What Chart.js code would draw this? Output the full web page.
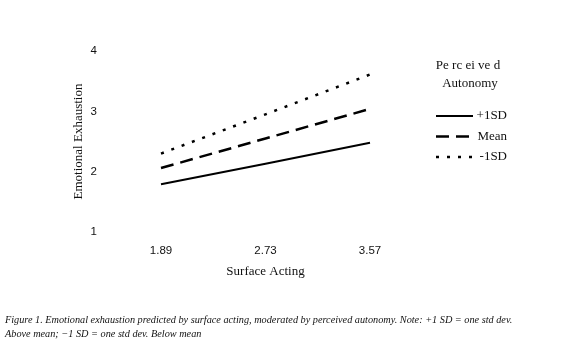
<!DOCTYPE html>
<html>
<head>
<meta charset="utf-8">
<script src="https://cdn.jsdelivr.net/npm/chart.js@4"></script>
<style>
    body { margin: 0; background: #fff; }
    #wrap { position: relative; width: 580px; height: 349px; }
    #caption {
        position: absolute; left: 5px; top: 313px; width: 575px;
        font-family: "Liberation Serif", serif; font-style: italic;
        font-size: 10.25px; line-height: 14px; color: #111;
    }
</style>
</head>
<body>
<div id="wrap">
    <canvas id="chart" width="580" height="349"></canvas>
    <div id="caption">Figure 1. Emotional exhaustion predicted by surface acting, moderated by perceived autonomy. Note: +1 SD = one std dev.<br>Above mean; &minus;1 SD = one std dev. Below mean</div>
</div>
<script>
// Chart data
const surfaceActing = ['1.89', '2.73', '3.57'];
const highAutonomy = [1.79, 2.13, 2.48];
const meanAutonomy = [2.06, 2.55, 3.04];
const lowAutonomy = [2.30, 2.95, 3.61];
const seriesLabels = ['+1SD', 'Mean', '-1SD'];
const yTicks = [1, 2, 3, 4];

// Legend drawn at the right side, lines + right-aligned text
const sideLegend = {
    id: 'sideLegend',
    afterDraw(chart) {
        const ctx = chart.ctx;
        ctx.save();
        ctx.fillStyle = '#111';
        ctx.font = '13px "Liberation Serif", serif';
        ctx.textAlign = 'center';
        ctx.textBaseline = 'middle';
        ctx.fillText('Pe rc ei ve d', 468, 66);
        ctx.fillText('Autonomy', 470, 84);

        ctx.textAlign = 'right';
        chart.data.datasets.forEach(function(ds, i) {
            const y = 116 + i * 20.5;
            ctx.beginPath();
            ctx.strokeStyle = ds.borderColor;
            ctx.lineWidth = ds.borderWidth;
            ctx.setLineDash(ds.borderDash || []);
            ctx.moveTo(436, y);
            ctx.lineTo(473, y);
            ctx.stroke();
            ctx.setLineDash([]);
            ctx.fillText(ds.label, 507, y);
        });
        ctx.restore();
    }
};

new Chart(document.getElementById('chart'), {
    type: 'line',
    data: {
        labels: surfaceActing,
        datasets: [{
            label: seriesLabels[0],
            data: highAutonomy,
            borderColor: '#000',
            borderWidth: 2,
            borderDash: []
        }, {
            label: seriesLabels[1],
            data: meanAutonomy,
            borderColor: '#000',
            borderWidth: 2.5,
            borderDash: [13, 7]
        }, {
            label: seriesLabels[2],
            data: lowAutonomy,
            borderColor: '#000',
            borderWidth: 2.5,
            borderDash: [3, 8]
        }]
    },
    options: {
        responsive: false,
        animation: false,
        elements: { point: { radius: 0 }, line: { tension: 0 } },
        layout: { padding: { left: 0, right: 210, top: 51, bottom: 70 } },
        plugins: {
            legend: { display: false },
            tooltip: { enabled: false }
        },
        scales: {
            x: {
                offset: false,
                grid: { display: false, drawTicks: false },
                border: { display: false },
                ticks: {
                    color: '#111',
                    padding: 12,
                    font: { family: '"Liberation Sans", Arial, sans-serif', size: 11.5 }
                },
                title: {
                    display: true,
                    text: 'Surface Acting',
                    color: '#111',
                    padding: { top: 0, bottom: 0 },
                    font: { family: '"Liberation Serif", serif', size: 13 }
                },
                afterFit: function(scale) { scale.height = 47; }
            },
            y: {
                min: 1,
                max: 4,
                afterBuildTicks: function(scale) {
                    scale.ticks = yTicks.map(v => ({ value: v }));
                },
                grid: { display: false, drawTicks: false },
                border: { display: false },
                ticks: {
                    color: '#111',
                    padding: 64,
                    font: { family: '"Liberation Sans", Arial, sans-serif', size: 11.5 }
                },
                title: {
                    display: true,
                    text: 'Emotional Exhaustion',
                    color: '#111',
                    padding: { top: 71, bottom: 0 },
                    font: { family: '"Liberation Serif", serif', size: 13 }
                },
                afterFit: function(scale) {
                    scale.width = 161;
                    // big tick padding would otherwise push the plot area down
                    scale.paddingTop = 0;
                    scale.paddingBottom = 0;
                }
            }
        }
    },
    plugins: [sideLegend]
});
</script>
</body>
</html>
